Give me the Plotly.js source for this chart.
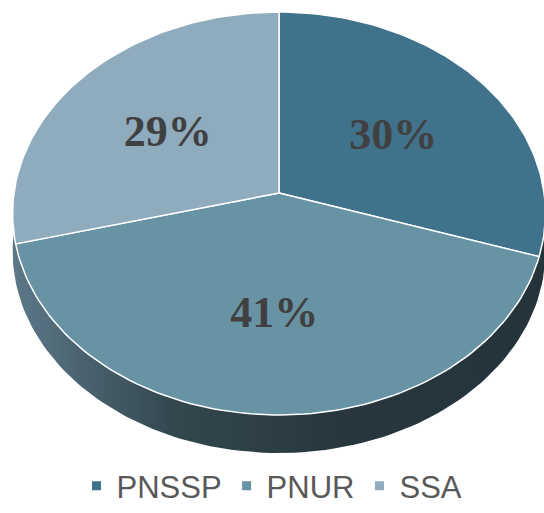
<!DOCTYPE html>
<html>
<head>
<meta charset="utf-8">
<script src="https://cdn.plot.ly/plotly-3.0.1.min.js"></script>
<style>html,body{margin:0;padding:0;background:#fff;}#chart{width:544px;height:513px;}</style>
</head>
<body>
<div id="chart"></div>
<script>
// ---- data ----
const categories = ['PNSSP', 'PNUR', 'SSA'];
const values = [30, 41, 29];
const labels = ['30%', '41%', '29%'];
const colors = ['#40728C', '#6893A5', '#8FACBE'];

// ---- 3D pie geometry (projection of a tilted disc) ----
const cx = 279, cy = 193, rx = 265, ry = 199.4, k = 0.1017, depth = 38;
function proj(deg, r) {
  const t = deg * Math.PI / 180;
  const s = Math.sin(t), c = Math.cos(t);
  const d = 1 + k * r * s;
  return [cx + rx * r * c / d, cy - ry * r * s / d];
}
function arc(a0, a1, r, dy) {
  const n = Math.max(4, Math.ceil(Math.abs(a1 - a0) / 1.5));
  const xs = [], ys = [];
  for (let i = 0; i <= n; i++) {
    const p = proj(a0 + (a1 - a0) * i / n, r);
    xs.push(p[0]); ys.push(p[1] + (dy || 0));
  }
  return [xs, ys];
}

const total = values.reduce((a, b) => a + b, 0);
const traces = [];

// side wall (near half of the disc)
{
  const top = arc(180, 360, 1, 0);
  const bot = arc(360, 180, 1, depth);
  traces.push({
    type: 'scatter', mode: 'lines',
    x: top[0].concat(bot[0]), y: top[1].concat(bot[1]),
    fill: 'toself',
    fillgradient: {type: 'horizontal', colorscale: [[0, '#5c7888'], [0.3, '#33474f'], [0.6, '#28373f'], [1, '#25333b']]},
    line: {width: 0, color: 'rgba(0,0,0,0)'},
    hoverinfo: 'skip', showlegend: false
  });
}

// slices
let start = 90;
const labX = [], labY = [];
values.forEach((v, i) => {
  const sweep = v / total * 360;
  const end = start - sweep;
  const a = arc(start, end, 1, 0);
  traces.push({
    type: 'scatter', mode: 'lines',
    x: [cx].concat(a[0], [cx]), y: [cy].concat(a[1], [cy]),
    fill: 'toself', fillcolor: colors[i],
    line: {color: '#ffffff', width: 1.5},
    hoverinfo: 'text', text: categories[i], showlegend: false
  });
  const m = proj((start + end) / 2, 0.55);
  labX.push(m[0]); labY.push(m[1] + 7);
  start = end;
});

// percentage labels
traces.push({
  type: 'scatter', mode: 'text', x: labX, y: labY, text: labels,
  textposition: 'middle center',
  textfont: {family: 'Liberation Serif, Times New Roman, serif', size: 44, color: '#404040', weight: 'bold'},
  hoverinfo: 'skip', showlegend: false
});

// legend entries
categories.forEach((c, i) => {
  traces.push({
    type: 'scatter', mode: 'markers', x: [null], y: [null], name: c,
    marker: {symbol: 'square', size: 9, color: colors[i]},
    showlegend: true, hoverinfo: 'skip'
  });
});

const layout = {
  width: 544, height: 513,
  margin: {l: 0, r: 0, t: 0, b: 0, autoexpand: false},
  paper_bgcolor: '#ffffff', plot_bgcolor: '#ffffff',
  xaxis: {range: [0, 544], visible: false, fixedrange: true},
  yaxis: {range: [513, 0], visible: false, fixedrange: true},
  showlegend: true,
  legend: {
    orientation: 'h', x: 0.5, xanchor: 'center', y: 0, yanchor: 'bottom',
    font: {family: 'Liberation Sans, Arial, sans-serif', size: 31, color: '#595959'},
    bgcolor: 'rgba(0,0,0,0)'
  }
};

Plotly.newPlot('chart', traces, layout, {displayModeBar: false, staticPlot: true});
</script>
</body>
</html>
